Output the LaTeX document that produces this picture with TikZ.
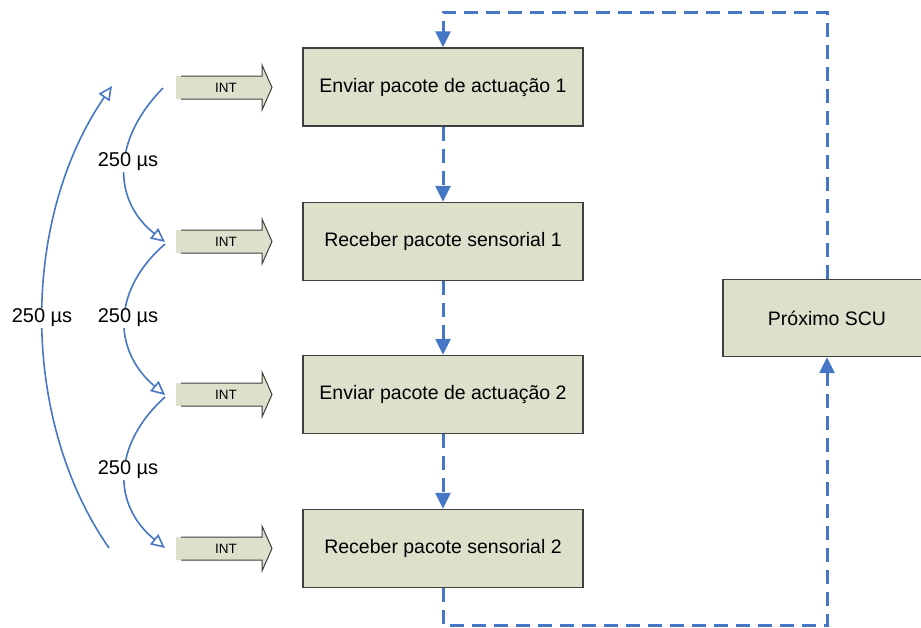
\documentclass[tikz,border=0pt]{standalone}
\usepackage{fontspec}
\setmainfont{Liberation Sans}
\usetikzlibrary{arrows.meta}
\definecolor{boxfill}{RGB}{221,224,203}
\definecolor{flowblue}{RGB}{70,118,198}
\definecolor{boxline}{RGB}{64,64,64}
\tikzset{
  stepbox/.style={draw=boxline, line width=1.3pt, fill=boxfill, minimum width=280pt, minimum height=78pt, inner sep=0pt, font=\fontsize{19.5}{23}\selectfont},
  scubox/.style={stepbox, minimum width=208pt, minimum height=77pt},
  flow/.style={draw=flowblue, line width=3pt, dash pattern=on 14pt off 8pt, -{Triangle[length=16pt,width=15pt]}},
  timing/.style={draw=flowblue, line width=1.6pt, -{Triangle[open,length=14pt,width=13pt,line width=1.6pt]}},
  timelabel/.style={fill=white, inner sep=1pt, font=\fontsize{20}{24}\selectfont},
  inttext/.style={font=\fontsize{13.5}{16}\selectfont, inner sep=0pt},
}
\newcommand{\intarrow}[2]{%
  \fill[boxfill] (176,#1-11.5) -- (262,#1-11.5) -- (262,#1-22.5) -- (272,#1) -- (262,#1+22.5) -- (262,#1+11.5) -- (176,#1+11.5) -- cycle;
  \draw[boxline, line width=1pt, line join=miter] (181,#1-11.5) -- (262,#1-11.5) -- (262,#1-22.5) -- (272,#1) -- (262,#1+22.5) -- (262,#1+11.5) -- (181,#1+11.5);
  \node[inttext] (#2) at (226,#1) {INT};
}
\begin{document}
\begin{tikzpicture}[x=1pt,y=-1pt]
\useasboundingbox (0,0) rectangle (921,627);
% process boxes
\node[stepbox] (b1) at (443,87) {Enviar pacote de actuação 1};
\node[stepbox] (b2) at (443,241.5) {Receber pacote sensorial 1};
\node[stepbox] (b3) at (443,394.5) {Enviar pacote de actuação 2};
\node[stepbox] (b4) at (443,548.5) {Receber pacote sensorial 2};
\node[scubox] (scu) at (827,318) {Próximo SCU};
% dashed flow
\coordinate (tl) at (443,12);
\coordinate (br) at (827,625);
\draw[flow] (b1.south) -- (b2.north);
\draw[flow] (b2.south) -- (b3.north);
\draw[flow] (b3.south) -- (b4.north);
\draw[flow] (b4.south) |- (br) -- (scu.south);
\draw[flow] (scu.north) |- (tl) -- (b1.north);
% INT arrows
\intarrow{87.5}{i1}
\intarrow{241.5}{i2}
\intarrow{394.5}{i3}
\intarrow{548.5}{i4}
% timing curves
\coordinate (s1) at (163,88);
\coordinate (e1) at (165,242);
\coordinate (s2) at (165,244);
\coordinate (e2) at (165,395);
\coordinate (s3) at (165,397);
\coordinate (e3) at (165,548);
\coordinate (bs) at (109,548);
\coordinate (be) at (112,86);
\draw[timing] (s1) .. controls (112,140) and (112,200) .. (e1);
\draw[timing] (s2) .. controls (112,290) and (112,350) .. (e2);
\draw[timing] (s3) .. controls (112,445) and (112,505) .. (e3);
\draw[timing] (bs) .. controls (20,420) and (20,220) .. (be);
\node[timelabel] (l1) at (128,162) {250 µs};
\node[timelabel] (l2) at (128,318) {250 µs};
\node[timelabel] (l3) at (128,470) {250 µs};
\node[timelabel] (l4) at (42,318) {250 µs};
\end{tikzpicture}
\end{document}
